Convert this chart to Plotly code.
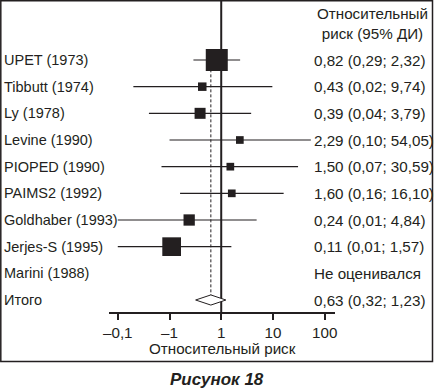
import plotly.graph_objects as go

studies = ["UPET (1973)", "Tibbutt (1974)", "Ly (1978)", "Levine (1990)", "PIOPED (1990)",
           "PAIMS2 (1992)", "Goldhaber (1993)", "Jerjes-S (1995)", "Marini (1988)", "Итого"]
rr = [0.82, 0.43, 0.39, 2.29, 1.50, 1.60, 0.24, 0.11, None, 0.63]
lo = [0.29, 0.02, 0.04, 0.10, 0.07, 0.16, 0.01, 0.01, None, 0.32]
hi = [2.32, 9.74, 3.79, 54.05, 30.59, 16.10, 4.84, 1.57, None, 1.23]
rr_text = ["0,82 (0,29; 2,32)", "0,43 (0,02; 9,74)", "0,39 (0,04; 3,79)", "2,29 (0,10; 54,05)",
           "1,50 (0,07; 30,59)", "1,60 (0,16; 16,10)", "0,24 (0,01; 4,84)", "0,11 (0,01; 1,57)",
           "Не оценивался", "0,63 (0,32; 1,23)"]
tick_vals = [0.01, 0.1, 1, 10, 100]
tick_text = ["–0,1", "–1", "1", "10", "100"]
# square marker side (px), reflecting study weight
box_px = [22, 8.5, 11, 7.7, 7.7, 7.7, 11.3, 18.7]

INK = "#231f20"
FONT = "Liberation Sans, Arial, sans-serif"
FS_L = 14.5
FS_R = 15.2
W, H = 435, 390
L, R, T, B = 109, 100, 0, 78
PW, PH = W - L - R, H - T - B

def px_x(p):
    return (p - L) / PW

def px_y(p):
    return 1 - (p - T) / PH

fig = go.Figure()

n_ind = 8
# CI lines
for i in range(n_ind):
    fig.add_trace(go.Scatter(x=[lo[i], hi[i]], y=[i, i], mode="lines",
                             line=dict(color=INK, width=1.2), hoverinfo="skip", showlegend=False))
# squares
fig.add_trace(go.Scatter(x=rr[:n_ind], y=list(range(n_ind)), mode="markers",
                         marker=dict(symbol="square", size=box_px, color=INK, opacity=1,
                                     line=dict(width=0)),
                         showlegend=False))
# pooled diamond
k = 9
h = 0.19
fig.add_trace(go.Scatter(x=[lo[k], rr[k], hi[k], rr[k], lo[k]], y=[k, k - h, k, k + h, k],
                         mode="lines", fill="toself", fillcolor="white",
                         line=dict(color=INK, width=1), showlegend=False, hoverinfo="skip"))

shapes = [
    # line of no effect
    dict(type="line", xref="x", yref="paper", x0=1, x1=1, y0=0, y1=1,
         line=dict(color=INK, width=2), layer="below"),
    # pooled estimate dashed
    dict(type="line", xref="x", yref="y", x0=rr[k], x1=rr[k], y0=-0.4, y1=k - h,
         line=dict(color=INK, width=1, dash="3px,2px"), layer="below"),
    # outer frame
    dict(type="rect", xref="paper", yref="paper", x0=px_x(0.8), x1=px_x(432.5),
         y0=px_y(361.5), y1=px_y(0.8), line=dict(color=INK, width=1.5)),
]

ann = []
for i, s in enumerate(studies):
    ann.append(dict(x=px_x(2), y=i, xref="paper", yref="y", text=s, showarrow=False,
                    xanchor="left", yanchor="middle", font=dict(size=FS_L, color=INK, family=FONT)))
    ann.append(dict(x=px_x(312), y=i, xref="paper", yref="y", text=rr_text[i], showarrow=False,
                    xanchor="left", yanchor="middle", font=dict(size=FS_R, color=INK, family=FONT)))
ann.append(dict(x=px_x(372), y=px_y(24), xref="paper", yref="paper",
                text="Относительный<br>риск (95% ДИ)", showarrow=False, xanchor="center",
                yanchor="middle", align="center", font=dict(size=FS_R, color=INK, family=FONT)))
ann.append(dict(x=px_x(222), y=px_y(348), xref="paper", yref="paper", text="Относительный риск",
                showarrow=False, xanchor="center", yanchor="middle",
                font=dict(size=FS_R, color=INK, family=FONT)))
ann.append(dict(x=px_x(217), y=px_y(380), xref="paper", yref="paper", text="<b><i>Рисунок 18</i></b>",
                showarrow=False, xanchor="center", yanchor="middle",
                font=dict(size=17, color=INK, family=FONT)))

fig.update_layout(
    width=W, height=H, margin=dict(l=L, r=R, t=T, b=B),
    paper_bgcolor="white", plot_bgcolor="white",
    shapes=shapes, annotations=ann, showlegend=False,
    xaxis=dict(type="log", range=[-2.17, 2.2], tickvals=tick_vals, ticktext=tick_text,
               showline=True, linecolor=INK, linewidth=2, ticks="outside", ticklen=6,
               tickwidth=1.5, tickcolor=INK, showgrid=False, zeroline=False,
               tickfont=dict(size=FS_R, color=INK, family=FONT), fixedrange=True),
    yaxis=dict(range=[9.45, -2.25], visible=False, showgrid=False, zeroline=False, fixedrange=True),
)

fig.write_html("out.html", config={"displayModeBar": False},
               post_script="document.body.style.margin='0';document.body.style.overflow='hidden';")
